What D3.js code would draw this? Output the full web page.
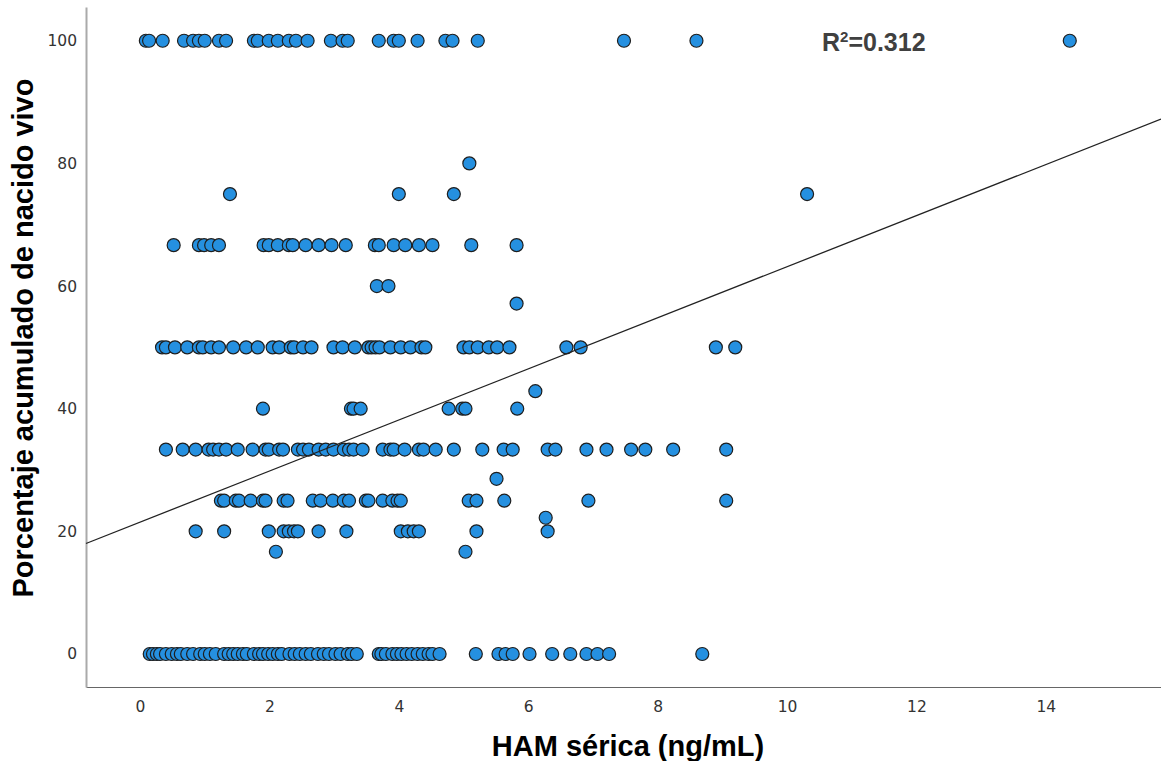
<!DOCTYPE html>
<html>
<head>
<meta charset="utf-8">
<script src="https://cdn.jsdelivr.net/npm/d3@7"></script>
<style>
  html, body { margin: 0; padding: 0; background: #fff; }
  svg { display: block; }
</style>
</head>
<body>
<svg id="chart" width="1161" height="761"></svg>
<script>
// ---- Data ----
const xTicks = [0, 2, 4, 6, 8, 10, 12, 14];
const yTicks = [0, 20, 40, 60, 80, 100];

const x_y100 = [0.09, 0.14, 0.35, 0.68, 0.82, 0.91, 1.0, 1.22, 1.33, 1.76, 1.82, 1.99, 2.13, 2.30, 2.41, 2.59, 2.95, 3.13, 3.21, 3.69, 3.92, 4.0, 4.29, 4.72, 4.83, 5.22, 7.48, 8.60, 14.37];
const x_y80 = [5.09];
const x_y75 = [1.39, 4.0, 4.85, 10.31];
const x_y66 = [0.52, 0.91, 0.99, 1.10, 1.22, 1.91, 1.99, 2.13, 2.30, 2.36, 2.56, 2.76, 2.96, 3.18, 3.63, 3.69, 3.92, 4.10, 4.31, 4.52, 5.12, 5.82];
const x_y60 = [3.66, 3.84];
const x_y57 = [5.82];
const x_y50 = [0.34, 0.40, 0.54, 0.73, 0.91, 0.97, 1.10, 1.22, 1.44, 1.64, 1.82, 2.05, 2.15, 2.33, 2.38, 2.52, 2.65, 2.99, 3.13, 3.32, 3.53, 3.58, 3.64, 3.70, 3.87, 4.03, 4.18, 4.35, 4.41, 5.0, 5.09, 5.22, 5.39, 5.52, 5.71, 6.59, 6.81, 8.90, 9.20];
const x_y43 = [6.11];
const x_y40 = [1.90, 3.26, 3.30, 3.41, 4.77, 4.98, 5.03, 5.83];
const x_y33 = [0.40, 0.66, 0.86, 1.06, 1.13, 1.22, 1.33, 1.51, 1.74, 1.94, 1.99, 2.15, 2.21, 2.44, 2.52, 2.61, 2.76, 2.87, 2.99, 3.15, 3.23, 3.30, 3.44, 3.75, 3.87, 3.92, 4.09, 4.31, 4.38, 4.57, 4.85, 5.29, 5.62, 5.76, 6.30, 6.42, 6.90, 7.21, 7.59, 7.81, 8.24, 9.06];
const x_y28 = [5.51];
const x_y25 = [1.25, 1.30, 1.48, 1.53, 1.71, 1.90, 1.94, 2.22, 2.28, 2.67, 2.79, 2.98, 3.15, 3.23, 3.49, 3.53, 3.75, 3.90, 3.98, 4.03, 5.08, 5.20, 5.63, 6.93, 9.06];
const x_y22 = [6.27];
const x_y20 = [0.86, 1.30, 1.99, 2.22, 2.30, 2.38, 2.44, 2.76, 3.19, 4.03, 4.14, 4.23, 4.31, 5.20, 6.30];
const x_y17 = [2.10, 5.03];
const x_y0 = [0.15, 0.20, 0.26, 0.31, 0.40, 0.49, 0.57, 0.63, 0.73, 0.82, 0.93, 1.00, 1.08, 1.17, 1.30, 1.37, 1.44, 1.51, 1.59, 1.65, 1.76, 1.84, 1.90, 1.98, 2.05, 2.13, 2.19, 2.31, 2.39, 2.47, 2.56, 2.64, 2.75, 2.84, 2.92, 3.02, 3.10, 3.21, 3.27, 3.35, 3.69, 3.73, 3.80, 3.90, 3.97, 4.04, 4.12, 4.20, 4.29, 4.37, 4.46, 4.52, 4.63, 5.19, 5.54, 5.65, 5.76, 6.02, 6.37, 6.65, 6.90, 7.07, 7.25, 8.69];

const yLevels = [100, 80, 75, 66.67, 60, 57.14, 50, 42.86, 40, 33.33, 28.57, 25, 22.22, 20, 16.67, 0];
const xByLevel = [x_y100, x_y80, x_y75, x_y66, x_y60, x_y57, x_y50, x_y43, x_y40, x_y33, x_y28, x_y25, x_y22, x_y20, x_y17, x_y0];

// Fit line
const fitIntercept = 21.5;
const fitSlope = 4.165;
const r2Label = "0.312";

const xTitle = "HAM sérica (ng/mL)";
const yTitle = "Porcentaje acumulado de nacido vivo";

// ---- Build points ----
const points = [];
yLevels.forEach((yv, i) => xByLevel[i].forEach(xv => points.push({x: xv, y: yv})));

// ---- Layout ----
const svg = d3.select("#chart");
const plotLeft = 86, plotRight = 1161, plotTop = 7, plotBottom = 687;

const x = d3.scaleLinear().domain([-0.835, 15.78]).range([plotLeft, plotRight]);
const y = d3.scaleLinear().domain([-5.38, 105.5]).range([plotBottom, plotTop]);

const tickFont = "'DejaVu Sans', 'Liberation Sans', Arial, sans-serif";

// Axes
const xAxis = svg.append("g")
  .attr("transform", `translate(0,${plotBottom})`)
  .call(d3.axisBottom(x).tickValues(xTicks).tickFormat(d3.format("d")).tickSize(0).tickSizeOuter(0).tickPadding(14));
xAxis.select(".domain").attr("stroke", "#666").attr("stroke-width", 1.2);
xAxis.selectAll("text").attr("font-family", tickFont).attr("font-size", 15.5).attr("fill", "#333");

const yAxis = svg.append("g")
  .attr("transform", `translate(${plotLeft},0)`)
  .call(d3.axisLeft(y).tickValues(yTicks).tickFormat(d3.format("d")).tickSize(0).tickSizeOuter(0).tickPadding(9));
yAxis.select(".domain").attr("stroke", "#aaa").attr("stroke-width", 2);
yAxis.selectAll("text").attr("font-family", tickFont).attr("font-size", 15.5).attr("fill", "#333");

// Points
svg.append("g").selectAll("circle")
  .data(points)
  .join("circle")
  .attr("cx", d => x(d.x))
  .attr("cy", d => y(d.y))
  .attr("r", 6.5)
  .attr("fill", "#2590e0")
  .attr("stroke", "#1e1e1e")
  .attr("stroke-width", 1.2);

// Fit line
const [dx0, dx1] = x.domain();
svg.append("line")
  .attr("x1", x(dx0)).attr("y1", y(fitIntercept + fitSlope * dx0))
  .attr("x2", x(dx1)).attr("y2", y(fitIntercept + fitSlope * dx1))
  .attr("stroke", "#222").attr("stroke-width", 1.3);

// R² label
const r2 = svg.append("text")
  .attr("x", 822).attr("y", 51)
  .attr("font-family", "'Liberation Sans', Arial, sans-serif")
  .attr("font-weight", "bold").attr("font-size", 25)
  .attr("fill", "#404040");
r2.append("tspan").text("R");
r2.append("tspan").attr("dy", -9).attr("font-size", 15).text("2");
r2.append("tspan").attr("dy", 9).text("=" + r2Label);

// Axis titles
svg.append("text")
  .attr("x", 628).attr("y", 756)
  .attr("text-anchor", "middle")
  .attr("font-family", "'Liberation Sans', Arial, sans-serif")
  .attr("font-weight", "bold").attr("font-size", 29)
  .attr("fill", "#000")
  .text(xTitle);

svg.append("text")
  .attr("transform", "translate(33,338) rotate(-90)")
  .attr("text-anchor", "middle")
  .attr("font-family", "'Liberation Sans', Arial, sans-serif")
  .attr("font-weight", "bold").attr("font-size", 29)
  .attr("fill", "#000")
  .text(yTitle);
</script>
</body>
</html>
